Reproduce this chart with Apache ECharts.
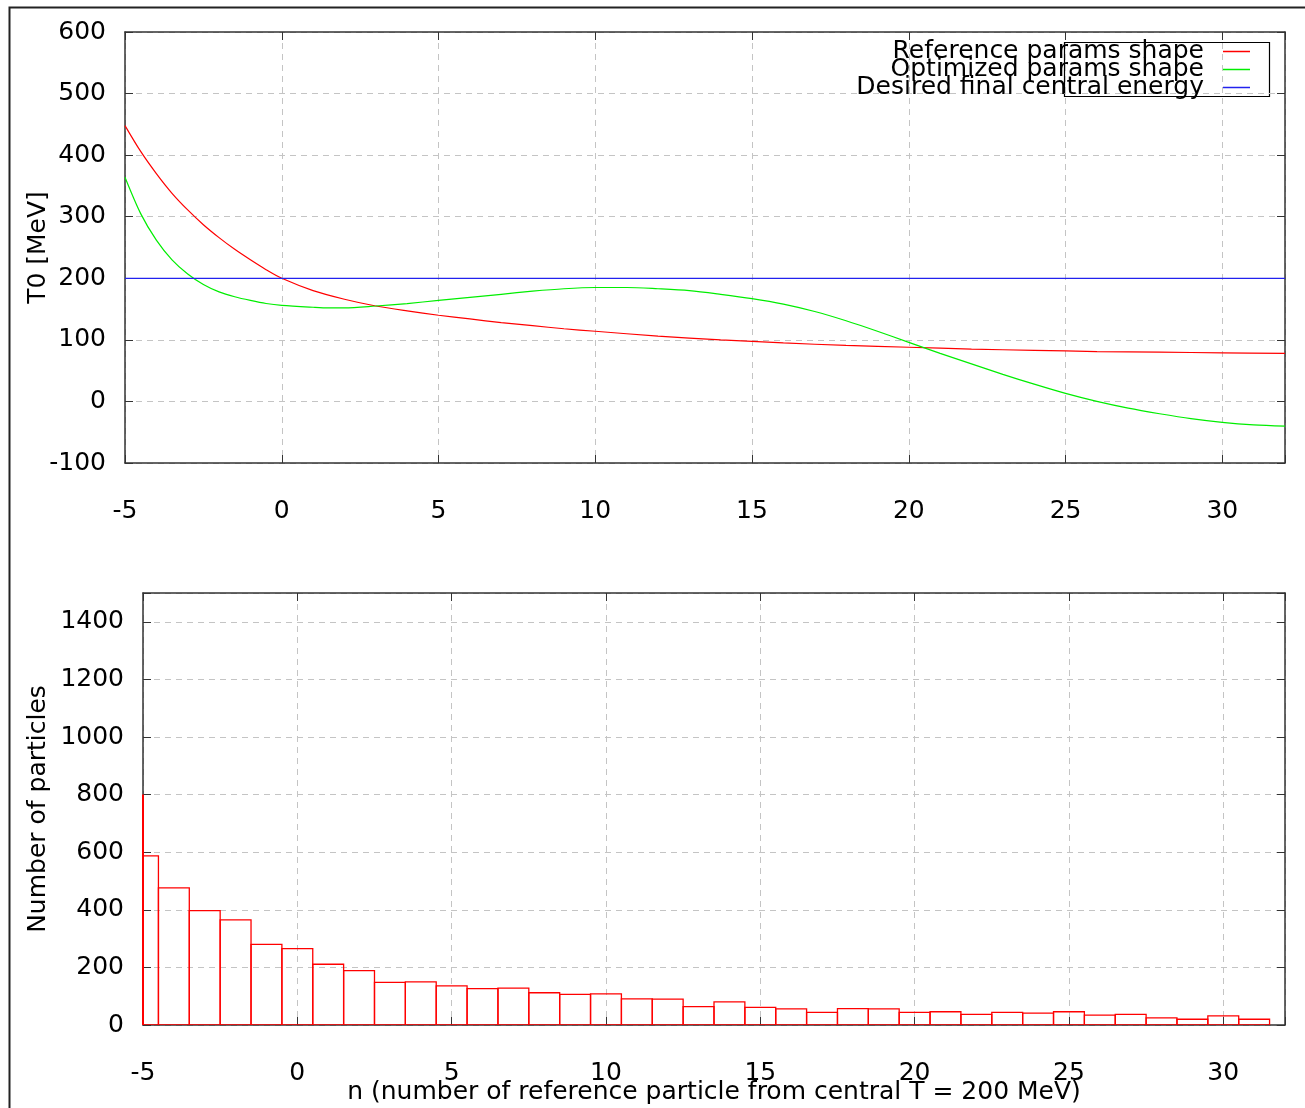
<!DOCTYPE html>
<html>
<head>
<meta charset="utf-8">
<script src="https://cdn.jsdelivr.net/npm/echarts@6/dist/echarts.min.js"></script>
<style>
html,body{margin:0;padding:0;background:#fff;}
#main{width:1305px;height:1108px;}
</style>
</head>
<body>
<div id="main"></div>
<script>
// ---- Top panel: T0 vs n ----
const refN     = [-5,-4.5,-4,-3.5,-3,-2.5,-2,-1.5,-1,-0.5,0,1,2,3,4,5,6,7,8,9,10,12,14,16,18,20,22,24,26,28,30,32];
const refT0    = [448,406,370,338,311,287,266,247,230,214,200,180,166,155,147,140,134,128,123,118,114,106,100,95,91,88,85,83,81,80,79,78];
const optN     = [-5,-4.5,-4,-3.5,-3,-2.5,-2,-1.5,-1,-0.5,0,1,1.5,2,3,4,5,6,7,8,9,10,11,12,13,14,15,16,17,18,19,20,21,22,23,24,25,26,27,28,29,30,31,32];
const optT0    = [364,305,262,230,207,190,178,170,164,159,156,153,152,152,155,159,164,169,174,179,183,185,185,183,180,174,167,158,146,131,114,96,78,61,44,28,13,0,-11,-20,-28,-34,-38,-40];
const desiredN  = [-5,32];
const desiredT0 = [200,200];
// ---- Bottom panel: histogram ----
const binCenters = [-5,-4,-3,-2,-1,0,1,2,3,4,5,6,7,8,9,10,11,12,13,14,15,16,17,18,19,20,21,22,23,24,25,26,27,28,29,30,31];
const binCounts  = [587,476,397,365,280,265,211,189,148,150,136,126,128,112,106,108,91,90,64,80,61,56,44,57,56,44,46,37,44,41,46,34,37,25,20,32,20];
const edgeLine   = [[-5,0],[-5,800]];
// ---- Labels ----
const legendNames = ['Reference params shape','Optimized params shape','Desired final central energy'];
const yTitleTop = 'T0 [MeV]';
const yTitleBottom = 'Number of particles';
const xTitleBottom = 'n (number of reference particle from central T = 200 MeV)';

const FONT = 'DejaVu Sans';
const FS = 25;
const gridLine = {show:true, lineStyle:{color:'#c4c4c4', type:[6,5], width:1}};
const axLine = {show:true, onZero:false, lineStyle:{color:'#333', width:1.5}};
const tick = {show:true, inside:true, length:8, lineStyle:{color:'#333', width:1}};
const lbl = {color:'#000', fontFamily:FONT, fontSize:FS};
const nameStyle = {color:'#000', fontFamily:FONT, fontSize:FS};

function xAx(grid, pos, show, extra){
  return Object.assign({type:'value', gridIndex:grid, position:pos, min:-5, max:32, interval:5,
    axisLine:axLine, axisTick:tick, splitLine: show ? gridLine : {show:false},
    axisLabel: show ? Object.assign({margin:36, formatter:v => (v % 5 === 0 ? String(v) : '')}, lbl) : {show:false}}, extra||{});
}
function yAx(grid, pos, show, min, max, interval, extra){
  return Object.assign({type:'value', gridIndex:grid, position:pos, min:min, max:max, interval:interval,
    axisLine:axLine, axisTick:tick, splitLine: show ? gridLine : {show:false},
    axisLabel: show ? Object.assign({margin:19, formatter:v => (v % interval === 0 ? String(v) : '')}, lbl) : {show:false}}, extra||{});
}

const chart = echarts.init(document.getElementById('main'), null, {renderer:'canvas'});
chart.setOption({
  backgroundColor:'#fff',
  animation:false,
  textStyle:{fontFamily:FONT},
  grid:[
    {left:125, top:32, right:20, height:431, containLabel:false, outerBoundsMode:'none'},
    {left:143, top:593, right:20, height:432, containLabel:false, outerBoundsMode:'none'}
  ],
  xAxis:[
    xAx(0,'bottom',true),
    xAx(0,'top',false),
    xAx(1,'bottom',true,{name:xTitleBottom, nameLocation:'middle', nameGap:55, nameMoveOverlap:false,
      nameTextStyle:nameStyle}),
    xAx(1,'top',false)
  ],
  yAxis:[
    yAx(0,'left',true,-100,600,100,{name:yTitleTop, nameLocation:'middle', nameGap:74, nameMoveOverlap:false,
      nameTextStyle:nameStyle}),
    yAx(0,'right',false,-100,600,100),
    yAx(1,'left',true,0,1500,200,{name:yTitleBottom, nameLocation:'middle', nameGap:92, nameMoveOverlap:false,
      nameTextStyle:nameStyle}),
    yAx(1,'right',false,0,1500,200)
  ],
  legend:{
    orient:'vertical', right:55, top:39, align:'right', itemGap:-7, padding:0,
    itemWidth:27, itemHeight:1.5, icon:'rect',
    textStyle:{color:'#000', fontFamily:FONT, fontSize:FS, padding:[0,14,0,0]},
    data:legendNames
  },
  graphic:[
    {type:'rect', left:1062, top:40, shape:{width:205, height:54}, style:{fill:'none', stroke:'#000', lineWidth:1.2}, z:-1},
    {type:'rect', left:7, top:5, shape:{width:1320, height:1130}, style:{fill:'none', stroke:'#222', lineWidth:2}, z:100}
  ],
  series:[
    {name:legendNames[0], type:'line', xAxisIndex:0, yAxisIndex:0, smooth:0.3, symbol:'none',
      data:refN.map((n,i)=>[n,refT0[i]]), lineStyle:{color:'#ff0000', width:1.2}, itemStyle:{color:'#ff0000'}, z:3},
    {name:legendNames[1], type:'line', xAxisIndex:0, yAxisIndex:0, smooth:0.3, symbol:'none',
      data:optN.map((n,i)=>[n,optT0[i]]), lineStyle:{color:'#00ee00', width:1.2}, itemStyle:{color:'#00ee00'}, z:3},
    {name:legendNames[2], type:'line', xAxisIndex:0, yAxisIndex:0, symbol:'none',
      data:desiredN.map((n,i)=>[n,desiredT0[i]]), lineStyle:{color:'#2222ee', width:1.2}, itemStyle:{color:'#2222ee'}, z:3},
    {type:'custom', xAxisIndex:2, yAxisIndex:2, clip:true,
      data:binCenters.map((n,i)=>[n,binCounts[i]]),
      renderItem:function(params, api){
        const x = api.value(0), y = api.value(1);
        const p0 = api.coord([x-0.5, y]);
        const p1 = api.coord([x+0.5, 0]);
        const r = {x:p0[0], y:p0[1], width:p1[0]-p0[0], height:p1[1]-p0[1]};
        const c = echarts.graphic.clipRectByRect(r, {x:params.coordSys.x, y:params.coordSys.y, width:params.coordSys.width, height:params.coordSys.height});
        if(!c) return;
        return {type:'rect', shape:c, style:{fill:'none', stroke:'#ff0000', lineWidth:1.3}};
      }, z:3},
    {type:'line', xAxisIndex:2, yAxisIndex:2, symbol:'none', data:edgeLine,
      lineStyle:{color:'#ff0000', width:2}, z:4}
  ]
});
</script>
</body>
</html>
